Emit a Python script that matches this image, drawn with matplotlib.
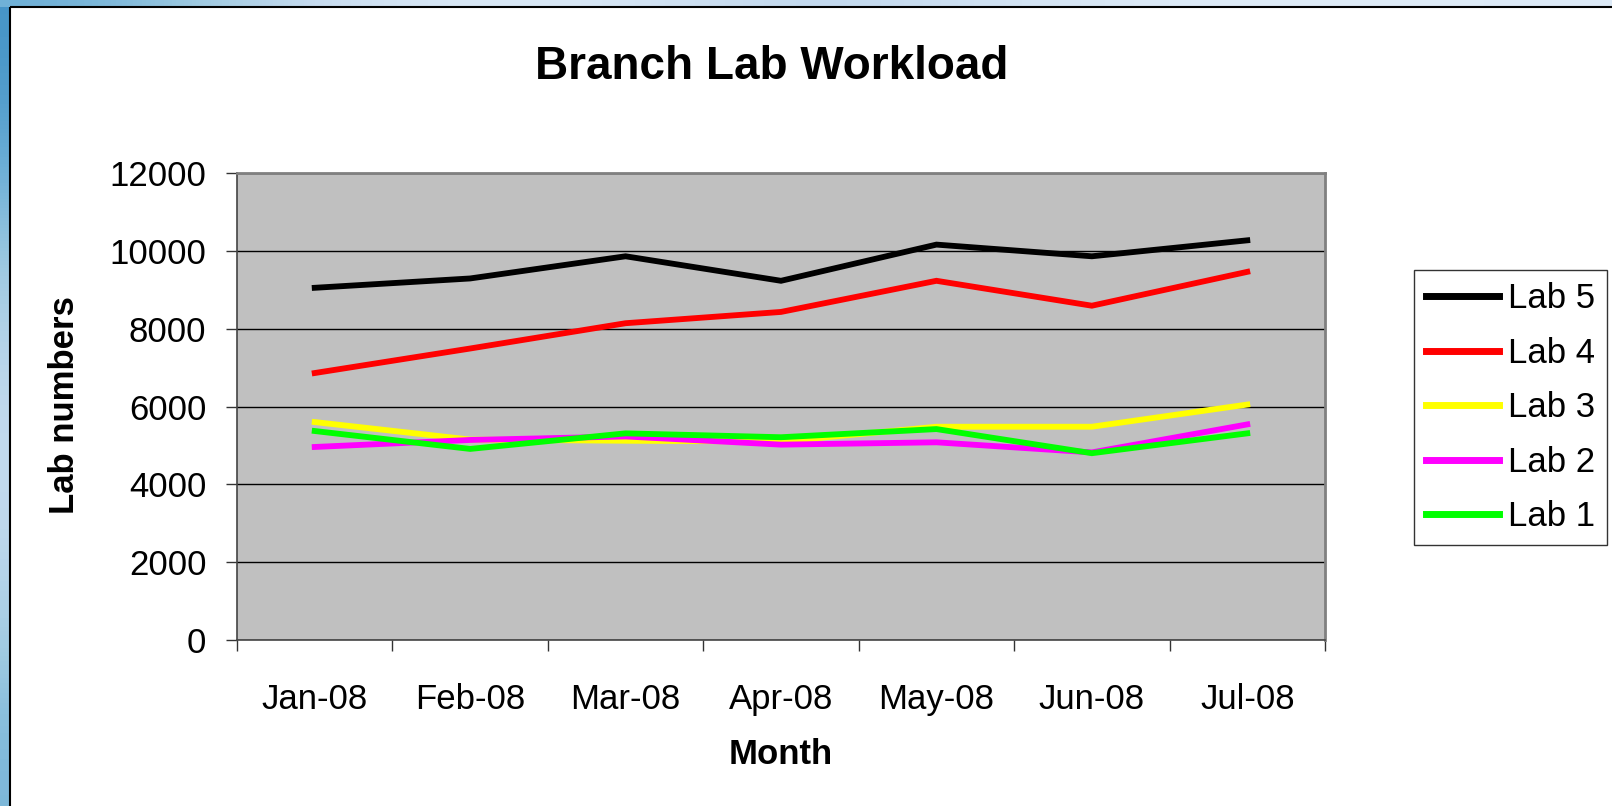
import matplotlib
matplotlib.use("Agg")
import matplotlib.pyplot as plt
import numpy as np
from matplotlib.patches import Rectangle

plt.rcParams['font.family'] = ['Liberation Sans', 'DejaVu Sans']

months = ['Jan-08', 'Feb-08', 'Mar-08', 'Apr-08', 'May-08', 'Jun-08', 'Jul-08']
lab5 = [9050, 9290, 9860, 9230, 10160, 9860, 10270]
lab4 = [6860, 7490, 8140, 8430, 9230, 8590, 9460]
lab3 = [5600, 5150, 5120, 5100, 5480, 5480, 6050]
lab2 = [4960, 5140, 5230, 5020, 5080, 4820, 5540]
lab1 = [5370, 4910, 5310, 5210, 5420, 4800, 5310]

series = [('Lab 5', lab5, '#000000'),
          ('Lab 4', lab4, '#FF0000'),
          ('Lab 3', lab3, '#FFFF00'),
          ('Lab 2', lab2, '#FF00FF'),
          ('Lab 1', lab1, '#00FF00')]

W, H = 1612, 806
fig = plt.figure(figsize=(W / 100, H / 100), dpi=100)
fig.patch.set_facecolor('white')

# slide background peeking out at left and top
bg = fig.add_axes([0, 0, 1, 1], zorder=-10)
bg.set_xlim(0, W)
bg.set_ylim(H, 0)
bg.axis('off')
left_grad = np.array([[0.5], [0.8], [0.98], [0.95], [0.7]])
bg.imshow(left_grad, cmap='Blues_r', vmin=0, vmax=1.3, aspect='auto',
          extent=(0, 10, H, 7), interpolation='bicubic')
top_grad = np.array([[0.55, 0.9, 0.97, 0.75, 0.92, 0.97, 0.95]])
bg.imshow(top_grad, cmap='Blues_r', vmin=0, vmax=1.1, aspect='auto',
          extent=(0, W, 7, 0), interpolation='bicubic')
bg.add_patch(Rectangle((10, 7), W, H, facecolor='none', edgecolor='black', lw=1.5))

ax = fig.add_axes([237 / W, 1 - 640 / H, (1325 - 237) / W, (640 - 173) / H])
ax.set_facecolor('#C0C0C0')

x = np.arange(len(months)) + 0.5
for name, vals, col in series:
    ax.plot(x, vals, color=col, lw=4.2, label=name, solid_joinstyle='miter')

ax.set_xlim(0, len(months))
ax.set_ylim(0, 12000)
ax.set_yticks(range(0, 12001, 2000))
ax.yaxis.grid(True, color='black', lw=1)
ax.set_axisbelow(True)
ax.tick_params(axis='y', labelsize=25, length=8, width=1, pad=14, colors='#333333', labelcolor='black')

ax.set_xticks(np.arange(len(months) + 1))
ax.set_xticklabels([])
ax.set_xticks(x, minor=True)
ax.set_xticklabels(months, minor=True, fontsize=25)
ax.tick_params(axis='x', which='major', length=8, width=1, colors='#333333')
ax.tick_params(axis='x', which='minor', length=0, pad=31)

for s in ['left', 'bottom']:
    ax.spines[s].set_color('#444444')
    ax.spines[s].set_linewidth(1.2)
for s in ['top', 'right']:
    ax.spines[s].set_color('#808080')
    ax.spines[s].set_linewidth(2)

fig.text(772 / W, 1 - 67 / H, 'Branch Lab Workload', fontsize=33, fontweight='bold',
         ha='center', va='center')
fig.text(65 / W, 1 - 405 / H, 'Lab numbers', fontsize=25, fontweight='bold',
         rotation=90, ha='center', va='center')
fig.text(781 / W, 1 - 754 / H, 'Month', fontsize=25, fontweight='bold',
         ha='center', va='center')

leg = ax.legend(loc='upper left', bbox_to_anchor=(1414 / W, 1 - 270 / H),
                bbox_transform=fig.transFigure, fontsize=25, frameon=True,
                fancybox=False, handlelength=2.1, handletextpad=0.25,
                labelspacing=0.62, borderpad=0.35, borderaxespad=0)
leg.get_frame().set_edgecolor('black')
leg.get_frame().set_linewidth(1)
for line in leg.get_lines():
    line.set_linewidth(5)

fig.savefig('out.png', dpi=100)
